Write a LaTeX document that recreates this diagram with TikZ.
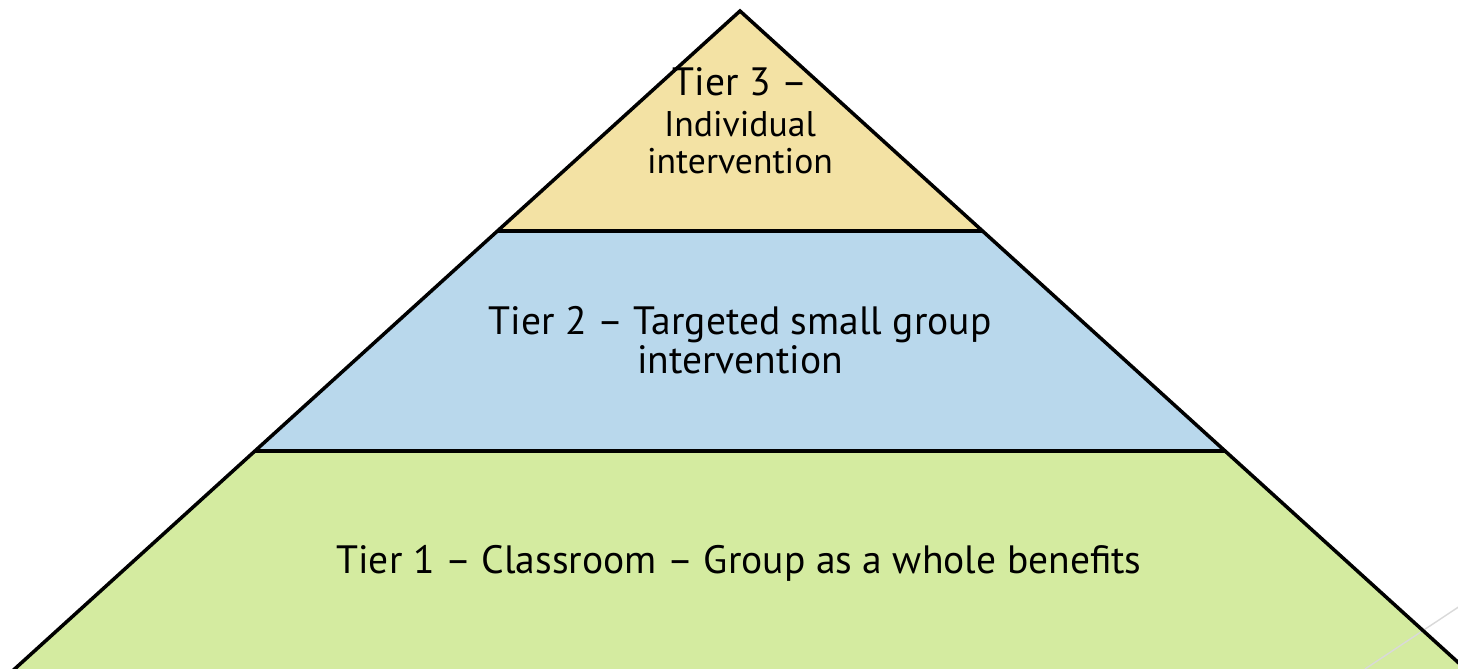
\documentclass[tikz,border=0pt]{standalone}
\usepackage{fontspec}
\setmainfont{PT Sans}
\usetikzlibrary{positioning}
\definecolor{tierthree}{HTML}{F3E2A4}
\definecolor{tiertwo}{HTML}{B9D8EC}
\definecolor{tierone}{HTML}{D4EBA0}
\tikzstyle{tier edge}  = [draw=black, line width=2pt, line join=miter]
\tikzstyle{tier label} = [align=center, inner sep=0pt, font=\fontsize{22.5}{22}\selectfont]
\tikzstyle{small label} = [align=center, inner sep=0pt, font=\fontsize{20.3}{21}\selectfont]

\begin{document}
\begin{tikzpicture}[x=0.02cm, y=-0.02cm]

    \useasboundingbox (0,0) rectangle (1458,669);

    % corners of the pyramid
    \coordinate (apex) at (740,11);
    \coordinate (l3) at (497,231);
    \coordinate (r3) at (982,231);
    \coordinate (l2) at (255,451);
    \coordinate (r2) at (1225,451);
    \coordinate (l1) at (8,675);
    \coordinate (r1) at (1472,675);

    % tiers
    \fill[tierthree] (apex) -- (l3) -- (r3) -- cycle;
    \fill[tiertwo] (l3) -- (l2) -- (r2) -- (r3) -- cycle;
    \fill[tierone] (l2) -- (l1) -- (r1) -- (r2) -- cycle;

    % slide decoration
    \coordinate (g1) at (1365,669);
    \coordinate (g2) at (1460,606);
    \draw[black!15, line width=0.8pt] (g1) -- (g2);

    \draw[tier edge] (l1) -- (apex) -- (r1);
    \draw[tier edge] (l3) -- (r3);
    \draw[tier edge] (l2) -- (r2);

    % labels
    \node(t3)[tier label] at (740,82) {Tier 3 --};
    \node(t3b)[small label, below=8pt of t3] {Individual\\intervention};
    \node(t2)[tier label] at (740,340) {Tier 2 -- Targeted small group\\intervention};
    \node(t1)[tier label] at (739,563) {Tier 1 -- Classroom -- Group as a whole benefits};

\end{tikzpicture}
\end{document}
